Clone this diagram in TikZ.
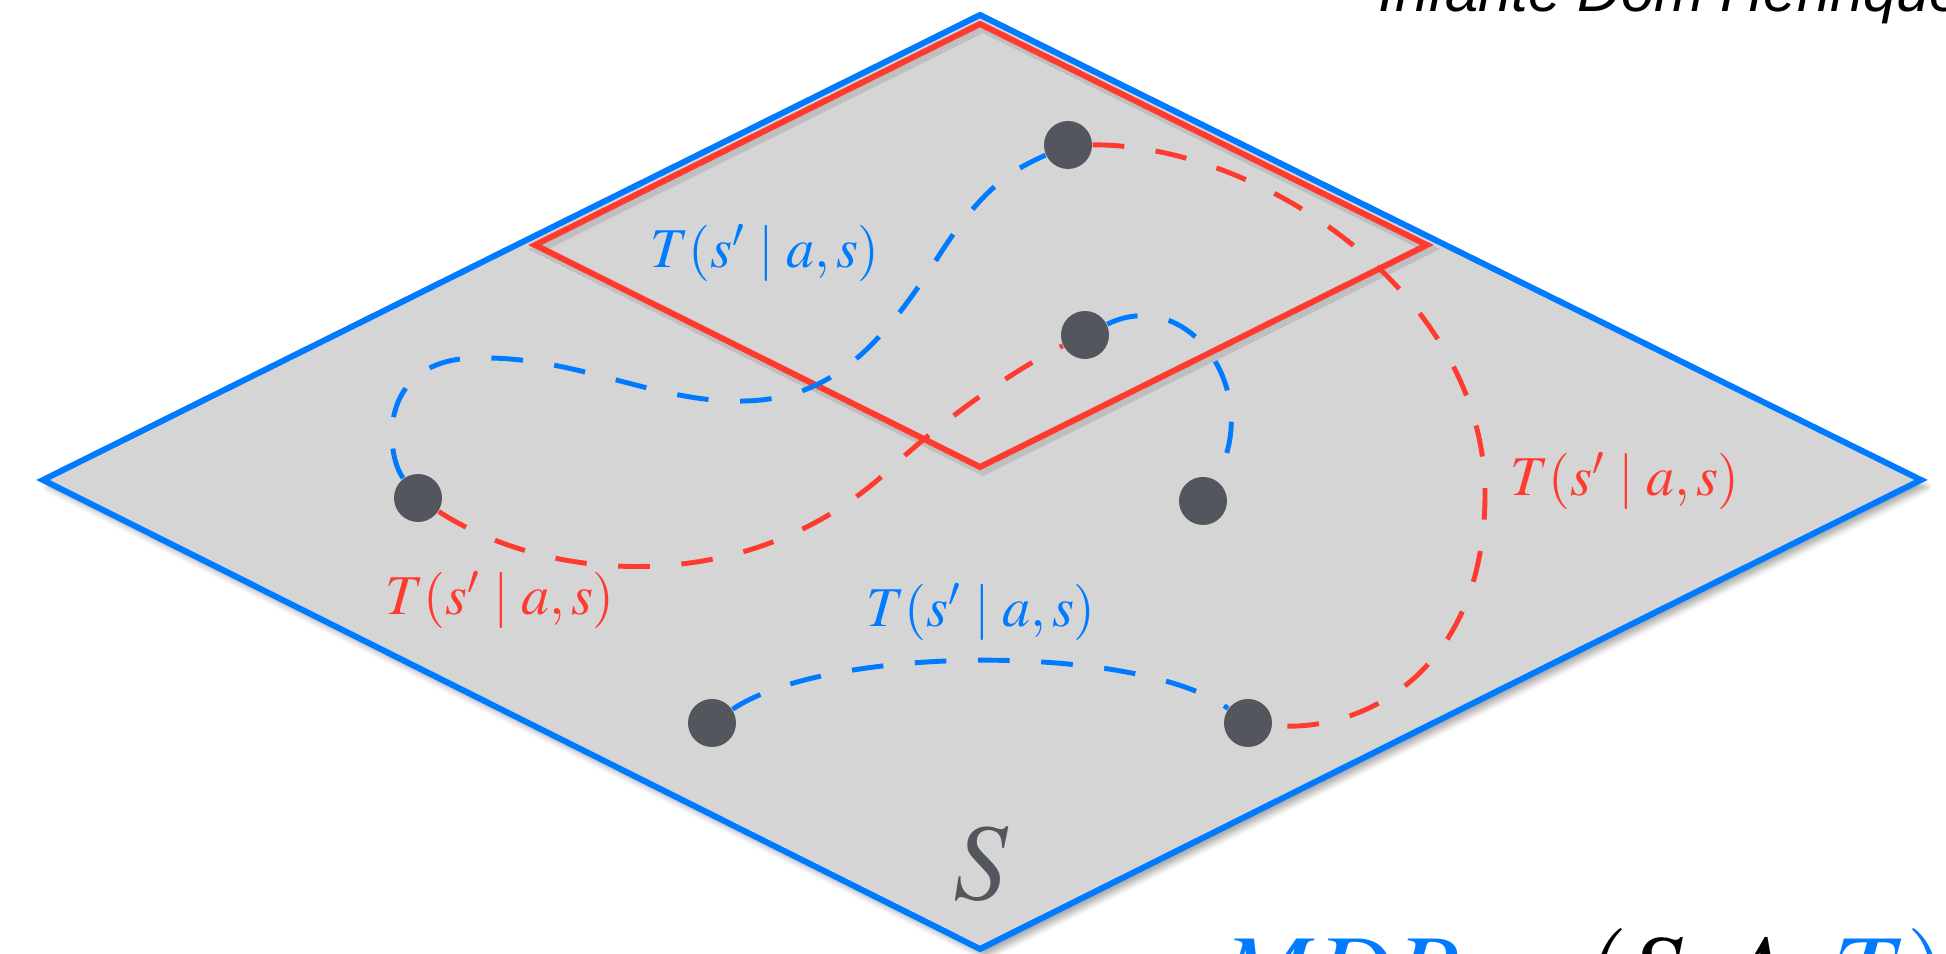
\documentclass[tikz,border=0pt]{standalone}
\usepackage{mathptmx}
\usepackage{fontspec}
\newfontfamily\mdpsans{Liberation Sans}
\usetikzlibrary{shadows.blur}
\definecolor{MdpBlue}{RGB}{0,122,255}
\definecolor{MdpRed}{RGB}{255,59,48}
\definecolor{MdpPlane}{RGB}{213,213,213}
\definecolor{MdpDot}{RGB}{83,87,93}
\tikzset{
  mdp/plane/.style={
    draw=MdpBlue,
    line width=1.7pt,
    fill=MdpPlane,
    blur shadow={shadow xshift=1.5pt, shadow yshift=-2pt, shadow blur steps=6, shadow opacity=35}
  },
  mdp/region/.style={draw=MdpRed, line width=1.7pt},
  mdp/regionshadow/.style={draw=black, line width=2.6pt, opacity=0.10},
  mdp/state/.style={circle, fill=MdpDot, minimum size=0.48cm, inner sep=0pt},
  mdp/bluepath/.style={draw=MdpBlue, line width=1.4pt, dash pattern=on 9pt off 9pt},
  mdp/redpath/.style={draw=MdpRed, line width=1.4pt, dash pattern=on 9pt off 9pt},
  mdp/trans/.style={font=\fontsize{16}{19}\selectfont, inner sep=1pt}
}

\begin{document}
\begin{tikzpicture}[x=1cm,y=1cm]
  \useasboundingbox (0,0) rectangle (19.46,9.54);
  % state space S
  \coordinate (pt) at (9.80,9.39);
  \coordinate (pr) at (19.21,4.74);
  \coordinate (pb) at (9.80,0.05);
  \coordinate (pl) at (0.43,4.74);
  \path[mdp/plane] (pt) -- (pr) -- (pb) -- (pl) -- cycle;
  % red subset
  \draw[mdp/regionshadow] (9.83,9.26) -- (14.30,7.05) -- (9.83,4.83) -- (5.38,7.05) -- cycle;
  \coordinate (rt) at (9.80,9.30);
  \coordinate (rr) at (14.27,7.09);
  \coordinate (rb) at (9.80,4.87);
  \coordinate (rl) at (5.35,7.09);
  \draw[mdp/region] (rt) -- (rr) -- (rb) -- (rl) -- cycle;
  % states
  \node[mdp/state] (s1) at (10.68,8.09) {};
  \node[mdp/state] (s2) at (10.85,6.19) {};
  \node[mdp/state] (s3) at (4.18,4.56) {};
  \node[mdp/state] (s4) at (12.03,4.53) {};
  \node[mdp/state] (s5) at (7.12,2.31) {};
  \node[mdp/state] (s6) at (12.48,2.31) {};
  % transitions
  \draw[mdp/bluepath] (s3) .. controls (3.85,5.0) and (3.75,6.0) .. (4.85,5.96)
    .. controls (5.8,5.96) and (6.6,5.5) .. (7.45,5.53)
    .. controls (8.3,5.55) and (8.8,6.05) .. (9.4,7.0)
    .. controls (9.85,7.7) and (10.15,7.85) .. (s1);
  \draw[mdp/bluepath] (s2) .. controls (11.9,6.7) and (12.65,5.6) .. (s4);
  \draw[mdp/bluepath] (s5) .. controls (8.3,3.1) and (11.4,3.1) .. (s6);
  \draw[mdp/redpath] (s1) .. controls (12.6,8.1) and (14.85,6.6) .. (14.85,4.6)
    .. controls (14.85,2.8) and (13.6,2.2) .. (s6);
  \draw[mdp/redpath] (s3) .. controls (5.5,3.7) and (7.5,3.55) .. (8.9,4.85)
    .. controls (9.6,5.5) and (10.35,5.95) .. (s2);
  % labels
  \node[mdp/trans, text=MdpBlue] (tTop) at (7.65,7.01) {$T(s'\mid a,s)$};
  \node[mdp/trans, text=MdpRed] (tLeft) at (5.00,3.54) {$T(s'\mid a,s)$};
  \node[mdp/trans, text=MdpBlue] (tMid) at (9.81,3.42) {$T(s'\mid a,s)$};
  \node[mdp/trans, text=MdpRed] (tRight) at (16.25,4.73) {$T(s'\mid a,s)$};
  \node[text=MdpDot, font=\fontsize{31}{37}\selectfont] (space) at (9.81,0.90) {$S$};
  \node[anchor=base west, inner sep=0pt, font=\mdpsans\itshape\fontsize{17}{20}\selectfont] (venue) at (13.78,9.42) {Infante Dom Henrique};
  \node[anchor=base west, inner sep=0pt, font=\fontsize{30.7}{34}\selectfont] (tuple) at (12.20,-0.56)
    {$\textcolor{MdpBlue}{MDP} :\hspace{0.5cm}(S, A, \textcolor{MdpBlue}{T)}$};
\end{tikzpicture}
\end{document}
